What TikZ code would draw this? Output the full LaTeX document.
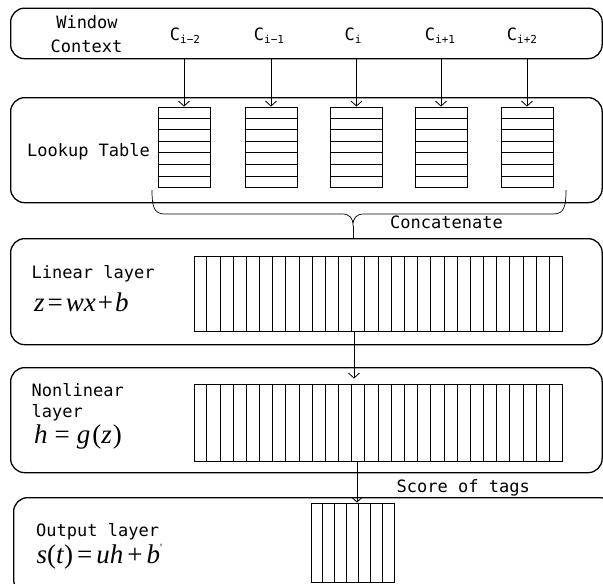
\documentclass[tikz,border=0pt]{standalone}
\usepackage{fontspec}
\setmainfont{DejaVu Sans Mono}
\newfontfamily\tmsfont{Liberation Serif}
\usetikzlibrary{arrows.meta,calc}
\newcommand\ctxlab[1]{C\raisebox{-3pt}{\fontsize{11}{12}\selectfont #1}}
\tikzset{
  layerbox/.style={draw, line width=1.3pt, rounded corners=14pt, inner sep=0pt, anchor=north west},
  lbl/.style={font=\fontsize{17}{20}\selectfont, inner sep=0pt},
  tbl/.style={draw, line width=0.8pt, minimum width=52pt, minimum height=80pt, inner sep=0pt},
  vec/.style={draw, line width=0.8pt, inner sep=0pt},
  thin line/.style={line width=0.7pt},
  arr/.style={line width=0.8pt, -{Straight Barb[length=5pt,width=11pt]}},
  mth/.style={font=\tmsfont\fontsize{27}{30}\selectfont, inner sep=0pt}
}
\begin{document}
\begin{tikzpicture}[x=1pt,y=-1pt]
\useasboundingbox (0,0) rectangle (603,584);
\clip (0,0) rectangle (603,584);

% layer boxes
\node[layerbox, minimum width=591.5pt, minimum height=50.5pt] (L1) at (10,7.5) {};
\node[layerbox, minimum width=591.5pt, minimum height=105pt] (L2) at (10,97) {};
\node[layerbox, minimum width=591.5pt, minimum height=106pt] (L3) at (10,238) {};
\node[layerbox, minimum width=591.5pt, minimum height=105pt] (L4) at (10,367) {};
\node[layerbox, minimum width=600pt, minimum height=96pt] (L5) at (13,497) {};

% window context
\node[lbl, anchor=base] (win) at (87,28) {Window};
\node[lbl, anchor=base] (ctx) at (86.5,52.5) {Context};
\node[lbl, anchor=base] (c1) at (185,40) {\ctxlab{i−2}};
\node[lbl, anchor=base] (c2) at (269,40) {\ctxlab{i−1}};
\node[lbl, anchor=base] (c3) at (353,40) {\ctxlab{i}};
\node[lbl, anchor=base] (c4) at (440,40) {\ctxlab{i+1}};
\node[lbl, anchor=base] (c5) at (522,40) {\ctxlab{i+2}};

% lookup tables
\node[lbl, anchor=base] (lt) at (88.5,156.5) {Lookup Table};
\foreach \n/\x in {1/184,2/271,3/356.5,4/441,5/527} {
  \node[tbl] (t\n) at (\x,147) {};
  \foreach \k in {1,...,6}
    \draw[thin line] ($(t\n.north west)!\k/7!(t\n.south west)$) -- ($(t\n.north east)!\k/7!(t\n.south east)$);
  \draw[arr] (t\n.north |- L1.south) -- (t\n.north);
}

% brace
\coordinate (bl) at (152,190);
\coordinate (br) at (566,190);
\coordinate (bt) at (353,226);
\draw[thin line] (bl) .. controls (152,207) and (154,214) .. (165,214) -- (342,214)
  .. controls (350,214) and (353,218) .. (bt)
  .. controls (353,218) and (356,214) .. (364,214) -- (553,214)
  .. controls (564,214) and (566,207) .. (br);
\draw[thin line] (bt) -- (bt |- L3.north);
\node[lbl, anchor=base] (cat) at (446.5,228) {Concatenate};

% linear layer
\node[lbl, anchor=base west] (lin) at (31.5,278) {Linear layer};
\node[mth, anchor=base west] (lineq) at (34,311.5) {\itshape z\/\kern3pt\upshape=\kern3pt\itshape wx\/\kern2pt\upshape+\kern2pt\itshape b};
\node[vec, minimum width=368pt, minimum height=75pt] (v3) at (378,293.5) {};
\foreach \k in {1,...,27}
  \draw[thin line] ($(v3.north west)!\k/28!(v3.north east)$) -- ($(v3.south west)!\k/28!(v3.south east)$);

% nonlinear layer
\node[lbl, anchor=base west] (nl1) at (31.5,396.5) {Nonlinear};
\node[lbl, anchor=base west] (nl2) at (31.5,417.5) {layer};
\node[mth, anchor=base west] (nleq) at (34,443) {\itshape h\kern7pt\upshape=\kern7pt\itshape g\/\kern2pt\upshape(\itshape z\/\kern1pt\upshape)};
\node[vec, minimum width=368pt, minimum height=77pt] (v4) at (378,422.5) {};
\foreach \k in {1,...,27}
  \draw[thin line] ($(v4.north west)!\k/28!(v4.north east)$) -- ($(v4.south west)!\k/28!(v4.south east)$);

% output layer
\node[lbl, anchor=base west] (out) at (36,536.5) {Output layer};
\node[mth, anchor=base west] (outeq) at (36.5,563) {\itshape s\/\upshape(\itshape t\/\upshape)\kern4pt=\kern4pt\itshape uh\/\kern4pt\upshape+\kern4pt\itshape b\/\upshape\raisebox{12pt}{\fontsize{11}{11}\selectfont\textquotesingle}};
\node[vec, minimum width=83pt, minimum height=79pt] (vo) at (352.5,542.5) {};
\foreach \k in {1,...,6}
  \draw[thin line] ($(vo.north west)!\k/7!(vo.north east)$) -- ($(vo.south west)!\k/7!(vo.south east)$);
\node[lbl, anchor=base west] (sot) at (396.5,492.5) {Score of tags};

% connectors
\coordinate (x34) at (354,0);
\coordinate (x45) at (357,0);
\draw[arr, shorten >=5pt] (v3.south -| x34) -- (v4.north -| x34);
\draw[arr] (v4.south -| x45) -- (vo.north -| x45);
\end{tikzpicture}
\end{document}
